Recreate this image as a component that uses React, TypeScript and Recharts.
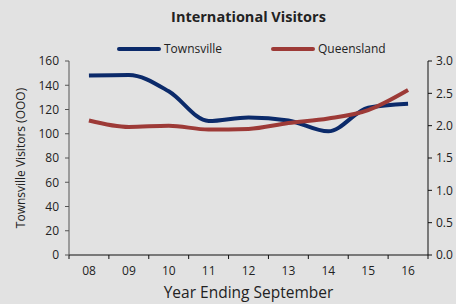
import { LineChart, Line, XAxis, YAxis } from 'recharts';

const years = ['08', '09', '10', '11', '12', '13', '14', '15', '16'];
const townsville = [148, 148.5, 135, 110.5, 113.5, 111, 102, 121.5, 124.8];
const queensland = [2.08, 1.98, 2.0, 1.94, 1.95, 2.04, 2.11, 2.24, 2.55];

const leftTicks = [0, 20, 40, 60, 80, 100, 120, 140, 160];
const rightTicks = [0, 0.5, 1.0, 1.5, 2.0, 2.5, 3.0];
const boundaryTicks = [0, 1, 2, 3, 4, 5, 6, 7, 8, 9];

const NAVY = '#0b2a6a';
const RED = '#9d3a37';
const FONT = '"Open Sans", sans-serif';

const data = years.map((y, i) => ({ x: i + 0.5, year: y, townsville: townsville[i], queensland: queensland[i] }));

/** Year labels sit between boundary ticks, like a category axis. */
function YearTick({ x, y, payload }: any) {
  const idx = payload.value as number;
  if (idx >= years.length) return null;
  return (
    <text x={x + 20} y={y + 14} textAnchor="middle" fontSize={12} fill="#222" fontFamily={FONT}>
      {years[idx]}
    </text>
  );
}

function LegendItem({ color, label }: { color: string; label: string }) {
  return (
    <span style={{ display: 'flex', alignItems: 'center', gap: 3 }}>
      <span style={{ width: 44, height: 4, borderRadius: 2, background: color }} />
      <span>{label}</span>
    </span>
  );
}

export default function App() {
  return (
    <div style={{ position: 'fixed', left: 0, top: 0, width: 456, height: 304, background: '#e2e2e2', fontFamily: FONT, color: '#222' }}>
      <div style={{ position: 'absolute', left: 69, width: 359, top: 7, textAlign: 'center', fontSize: 14.5, fontWeight: 700 }}>
        International Visitors
      </div>
      <div style={{ position: 'absolute', top: 40, left: 117, display: 'flex', gap: 49, fontSize: 12 }}>
        <LegendItem color={NAVY} label="Townsville" />
        <LegendItem color={RED} label="Queensland" />
      </div>
      <LineChart width={456} height={304} data={data} margin={{ top: 61, right: 0, bottom: 0, left: 0 }}>
        <XAxis
          dataKey="x"
          type="number"
          domain={[0, 9]}
          ticks={boundaryTicks}
          interval={0}
          tick={<YearTick />}
          tickSize={4}
          stroke="#111"
          height={49}
          label={{
            content: ({ viewBox }: any) => (
              <text x={viewBox.x + viewBox.width / 2} y={298} textAnchor="middle" fontSize={15.5} fill="#222" fontFamily={FONT}>
                Year Ending September
              </text>
            ),
          }}
        />
        <YAxis
          yAxisId="left"
          domain={[0, 160]}
          ticks={leftTicks}
          interval={0}
          width={69}
          tickSize={4}
          tickMargin={6}
          stroke="#555"
          tick={{ fontSize: 12, fill: '#222', fontFamily: FONT }}
          label={{
            content: () => (
              <text x={20} y={158} transform="rotate(-90, 20, 158)" textAnchor="middle" dominantBaseline="central" fontSize={12} fill="#222" fontFamily={FONT}>
                Townsville Visitors (OOO)
              </text>
            ),
          }}
        />
        <YAxis
          yAxisId="right"
          orientation="right"
          domain={[0, 3]}
          ticks={rightTicks}
          interval={0}
          width={28}
          tickSize={4}
          tickMargin={4}
          stroke="#111"
          tickFormatter={(v: number) => v.toFixed(1)}
          tick={{ fontSize: 12, fill: '#222', fontFamily: FONT, textAnchor: 'start' }}
        />
        <Line yAxisId="left" dataKey="townsville" type="monotone" stroke={NAVY} strokeWidth={4} dot={false} isAnimationActive={false} />
        <Line yAxisId="right" dataKey="queensland" type="monotone" stroke={RED} strokeWidth={4} dot={false} isAnimationActive={false} />
      </LineChart>
    </div>
  );
}
